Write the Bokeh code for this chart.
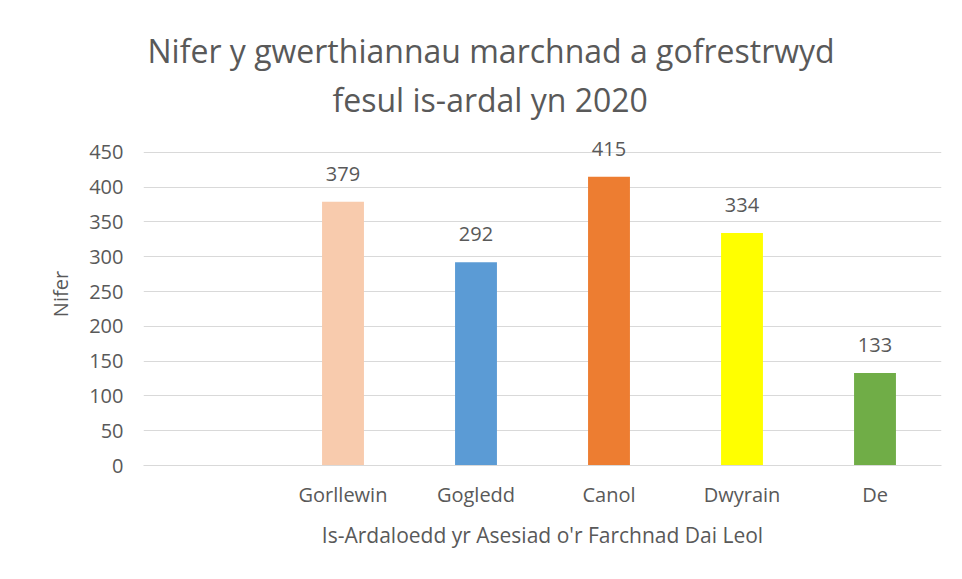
from bokeh.plotting import figure
from bokeh.models import Title, ColumnDataSource, FactorRange, Range1d, FixedTicker, LabelSet
from bokeh.core.properties import value
from bokeh.embed import file_html
from bokeh.resources import INLINE

categories = [" ", "Gorllewin", "Gogledd", "Canol", "Dwyrain", "De"]
bar_categories = ["Gorllewin", "Gogledd", "Canol", "Dwyrain", "De"]
values = [379, 292, 415, 334, 133]
colors = ["#F8CBAD", "#5B9BD5", "#ED7D31", "#FFFF00", "#70AD47"]
y_ticks = [0, 50, 100, 150, 200, 250, 300, 350, 400, 450]

title_line1 = "Nifer y gwerthiannau marchnad a gofrestrwyd"
title_line2 = "fesul is-ardal yn 2020"
x_title = "Is-Ardaloedd yr Asesiad o'r Farchnad Dai Leol"
y_title = "Nifer"

FONT = "Open Sans"
TXT = "#595959"
GRID = "#D9D9D9"

src = ColumnDataSource(dict(x=bar_categories, top=values, color=colors,
                            label=[str(v) for v in values]))

# frame extends above the top gridline so that value labels are not clipped
p = figure(width=954, height=571, output_backend="svg", toolbar_location=None,
           x_range=FactorRange(factors=categories, range_padding=0),
           y_range=Range1d(0, 493),
           min_border_left=143, min_border_right=13, min_border_bottom=106,
           min_border_top=122)

p.add_layout(Title(text=title_line2, align="left", text_font=FONT,
                   text_font_size="32px", text_color=TXT, text_font_style="normal",
                   standoff=4, offset=189), "above")
p.add_layout(Title(text=title_line1, align="left", text_font=FONT,
                   text_font_size="32px", text_color=TXT, text_font_style="normal",
                   standoff=4, offset=4), "above")

p.vbar(x="x", top="top", width=0.315, color="color", source=src, line_color=None)
labels = LabelSet(x="x", y="top", text="label", source=src, text_align="center",
                  text_baseline="alphabetic", y_offset=21, text_font_size="20px",
                  text_color=TXT, text_font=value(FONT))
p.add_layout(labels)

p.outline_line_color = None
p.xgrid.grid_line_color = None
p.ygrid.grid_line_color = GRID
p.ygrid.grid_line_width = 1

p.yaxis.ticker = FixedTicker(ticks=y_ticks)
p.yaxis.axis_line_color = None
p.yaxis.major_tick_line_color = None
p.yaxis.minor_tick_line_color = None
p.yaxis.major_tick_out = 0
p.yaxis.major_label_standoff = 20
p.yaxis.major_label_text_font = FONT
p.yaxis.major_label_text_font_size = "20px"
p.yaxis.major_label_text_color = TXT
p.yaxis.axis_label = y_title
p.yaxis.axis_label_text_font = FONT
p.yaxis.axis_label_text_font_size = "20px"
p.yaxis.axis_label_text_color = TXT
p.yaxis.axis_label_text_font_style = "normal"
p.yaxis.axis_label_standoff = 12

p.xaxis.axis_line_color = GRID
p.xaxis.axis_line_width = 1
p.xaxis.major_tick_line_color = None
p.xaxis.minor_tick_line_color = None
p.xaxis.major_tick_out = 0
p.xaxis.major_label_standoff = 15
p.xaxis.major_label_text_font = FONT
p.xaxis.major_label_text_font_size = "20px"
p.xaxis.major_label_text_color = TXT
p.xaxis.axis_label = x_title
p.xaxis.axis_label_text_font = FONT
p.xaxis.axis_label_text_font_size = "21px"
p.xaxis.axis_label_text_color = TXT
p.xaxis.axis_label_text_font_style = "normal"
p.xaxis.axis_label_standoff = 10

open("out.html", "w").write(file_html(p, INLINE))
